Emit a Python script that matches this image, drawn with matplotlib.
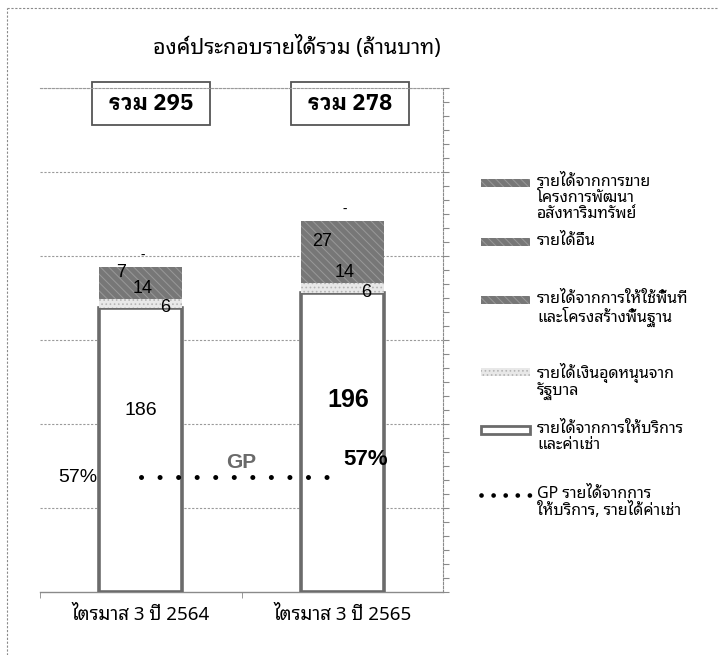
import matplotlib
matplotlib.use("Agg")
import matplotlib.pyplot as plt
import numpy as np
from matplotlib.patches import Rectangle
from matplotlib.lines import Line2D

plt.rcParams["font.family"] = ["Noto Sans Thai Looped", "DejaVu Sans"]
plt.rcParams["hatch.linewidth"] = 0.7

categories = ["ไตรมาส 3 ปี 2564", "ไตรมาส 3 ปี 2565"]
service = [186, 196]      # รายได้จากการให้บริการและค่าเช่า
subsidy = [6, 6]          # รายได้เงินอุดหนุนจากรัฐบาล
space = [14, 14]          # รายได้จากการให้ใช้พื้นที่และโครงสร้างพื้นฐาน
other = [7, 27]           # รายได้อื่น
sale = [0, 0]             # รายได้จากการขายโครงการพัฒนาอสังหาริมทรัพย์
totals = [295, 278]
gp = [57, 57]

legend_labels = [
    "รายได้จากการขาย\nโครงการพัฒนา\nอสังหาริมทรัพย์",
    "รายได้อื่น",
    "รายได้จากการให้ใช้พื้นที่\nและโครงสร้างพื้นฐาน",
    "รายได้เงินอุดหนุนจาก\nรัฐบาล",
    "รายได้จากการให้บริการ\nและค่าเช่า",
    "GP รายได้จากการ\nให้บริการ, รายได้ค่าเช่า",
]

W, H = 719, 655
fig = plt.figure(figsize=(W / 100, H / 100), dpi=100)
ax = fig.add_axes([40 / W, 1 - 592 / H, 403 / W, 504 / H])

x = np.arange(len(categories))
bw = 0.41
dark = "#777777"
num_font = ["Liberation Sans", "DejaVu Sans"]
bold_thai = ["IBM Plex Sans Thai Looped", "DejaVu Sans"]

b0 = np.zeros(2)
ax.bar(x, service, bw, bottom=b0, color="white", edgecolor="#6b6b6b", linewidth=2.6, zorder=3)
b1 = b0 + service
ax.bar(x, subsidy, bw, bottom=b1, color="#e8e8e8", edgecolor="#b5b5b5", hatch="....", linewidth=0, zorder=3)
b2 = b1 + subsidy
ax.bar(x, space, bw, bottom=b2, color=dark, edgecolor="#999999", hatch="\\\\\\\\", linewidth=0, zorder=3)
b3 = b2 + space
ax.bar(x, other, bw, bottom=b3, color=dark, edgecolor="#999999", hatch="\\\\\\\\", linewidth=0, zorder=3)
b4 = b3 + other

for i in range(len(categories)):
    ax.text(x[i] - 0.1, b3[i] + other[i] / 2, str(other[i]), ha="center", va="center",
            fontsize=13, family=num_font, zorder=5)
    ax.text(x[i] + 0.01, b2[i] + space[i] / 2, str(space[i]), ha="center", va="center",
            fontsize=13, family=num_font, zorder=5)
    ax.text(x[i] + 0.12, b1[i], str(subsidy[i]), ha="center", va="center",
            fontsize=13, family=num_font, zorder=5)
    ax.text(x[i] + 0.01, b4[i] + 2, "-" if sale[i] == 0 else str(sale[i]), ha="center",
            va="bottom", fontsize=10, fontweight="bold", zorder=5)
    ax.text(x[i] + 0.03 * i, service[i] * 0.64, str(service[i]), ha="center", va="center",
            fontsize=14 if i == 0 else 18, fontweight="normal" if i == 0 else "bold",
            family=num_font, zorder=5)
    ax.text(x[i] + (0.04 if i else 0.05), 320, " รวม " + str(totals[i]) + " ",
            ha="center", va="center", fontsize=16, fontweight="bold", family=bold_thai, zorder=5,
            bbox=dict(boxstyle="square,pad=0.5", fc="white", ec="#555555", lw=1.3))

ax.set_xlim(-0.5, 1.5)
ax.set_ylim(0, 330)
# gridlines by hand so no tick marks show on the left
for g in np.arange(55, 331, 55):
    ax.axhline(g, linestyle=(0, (2, 1.5)), color="#9a9a9a", linewidth=0.8, zorder=1)
ax.set_xticks(x)
ax.set_xticklabels(categories, fontsize=13.5)
ax.tick_params(axis="x", length=0, pad=10)
ax.set_xticks([-0.5, 0.5], minor=True)
ax.tick_params(axis="x", which="minor", length=4, color="#888888")
for s in ["left", "top", "right"]:
    ax.spines[s].set_visible(False)
ax.spines["bottom"].set_color("#8a8a8a")
ax.spines["bottom"].set_linewidth(1.0)

ax2 = ax.twinx()
ax.set_yticks([])
ax2.set_ylim(0, 250)
ax2.plot(x, gp, color="black", linewidth=3.6, linestyle=(0, (0.01, 3.7)),
         dash_capstyle="round", zorder=6)
ax2.text(0.5, gp[0] + 7, "GP", ha="center", va="center", fontsize=15,
         fontweight="bold", color="#6a6a6a", family=num_font)
ax2.text(x[0] - 0.31, gp[0], f"{gp[0]}%", ha="center", va="center", fontsize=14,
         family=num_font)
ax2.text(x[1] + 0.115, gp[1] + 8.5, f"{gp[1]}%", ha="center", va="center", fontsize=16,
         fontweight="bold", family=num_font)
ax2.set_yticks([])
ax2.set_yticks(np.linspace(0, 250, 37), minor=True)
ax2.tick_params(axis="y", which="minor", length=4, color="#8a8a8a", width=0.8,
                left=False, labelright=False)
for s in ["left", "bottom"]:
    ax2.spines[s].set_visible(False)
ax2.spines["right"].set_linestyle((0, (2, 1.5)))
ax2.spines["right"].set_color("#8a8a8a")
ax2.spines["top"].set_linestyle((0, (2, 1.5)))
ax2.spines["top"].set_color("#9a9a9a")
ax2.spines["top"].set_linewidth(0.8)

fig.text(297 / W, 1 - 47 / H, "องค์ประกอบรายได้รวม (ล้านบาท)", ha="center", va="center", fontsize=15.5)

# legend drawn by hand
leg_y = [183, 242, 300, 372, 430, 495]
styles = [
    dict(fc=dark, ec="#999999", hatch="\\\\\\\\", lw=0),
    dict(fc=dark, ec="#999999", hatch="\\\\\\\\", lw=0),
    dict(fc=dark, ec="#999999", hatch="\\\\\\\\", lw=0),
    dict(fc="#e8e8e8", ec="#b5b5b5", hatch="....", lw=0),
    dict(fc="white", ec="#6b6b6b", lw=2),
]
for yy, lab, st in zip(leg_y, legend_labels, styles + [None]):
    if st is not None:
        fig.add_artist(Rectangle((481 / W, 1 - (yy + 4) / H), 49 / W, 8 / H,
                                 transform=fig.transFigure, **st))
    else:
        fig.add_artist(Line2D([481 / W, 530 / W], [1 - yy / H] * 2, transform=fig.transFigure,
                              color="black", linewidth=3.4, linestyle=(0, (0.01, 2.55)),
                              dash_capstyle="round"))
    fig.text(537 / W, 1 - (yy - 9) / H, lab, ha="left", va="top", fontsize=11.5, linespacing=1.0)

# scanned page border
fig.add_artist(Line2D([7 / W, 7 / W], [0, 1 - 8 / H], transform=fig.transFigure,
                      color="#8a8a8a", linewidth=0.8, linestyle=(0, (2, 1.5))))
fig.add_artist(Line2D([7 / W, 1], [1 - 8 / H] * 2, transform=fig.transFigure,
                      color="#8a8a8a", linewidth=0.8, linestyle=(0, (2, 1.5))))

fig.savefig("out.png", dpi=100)
